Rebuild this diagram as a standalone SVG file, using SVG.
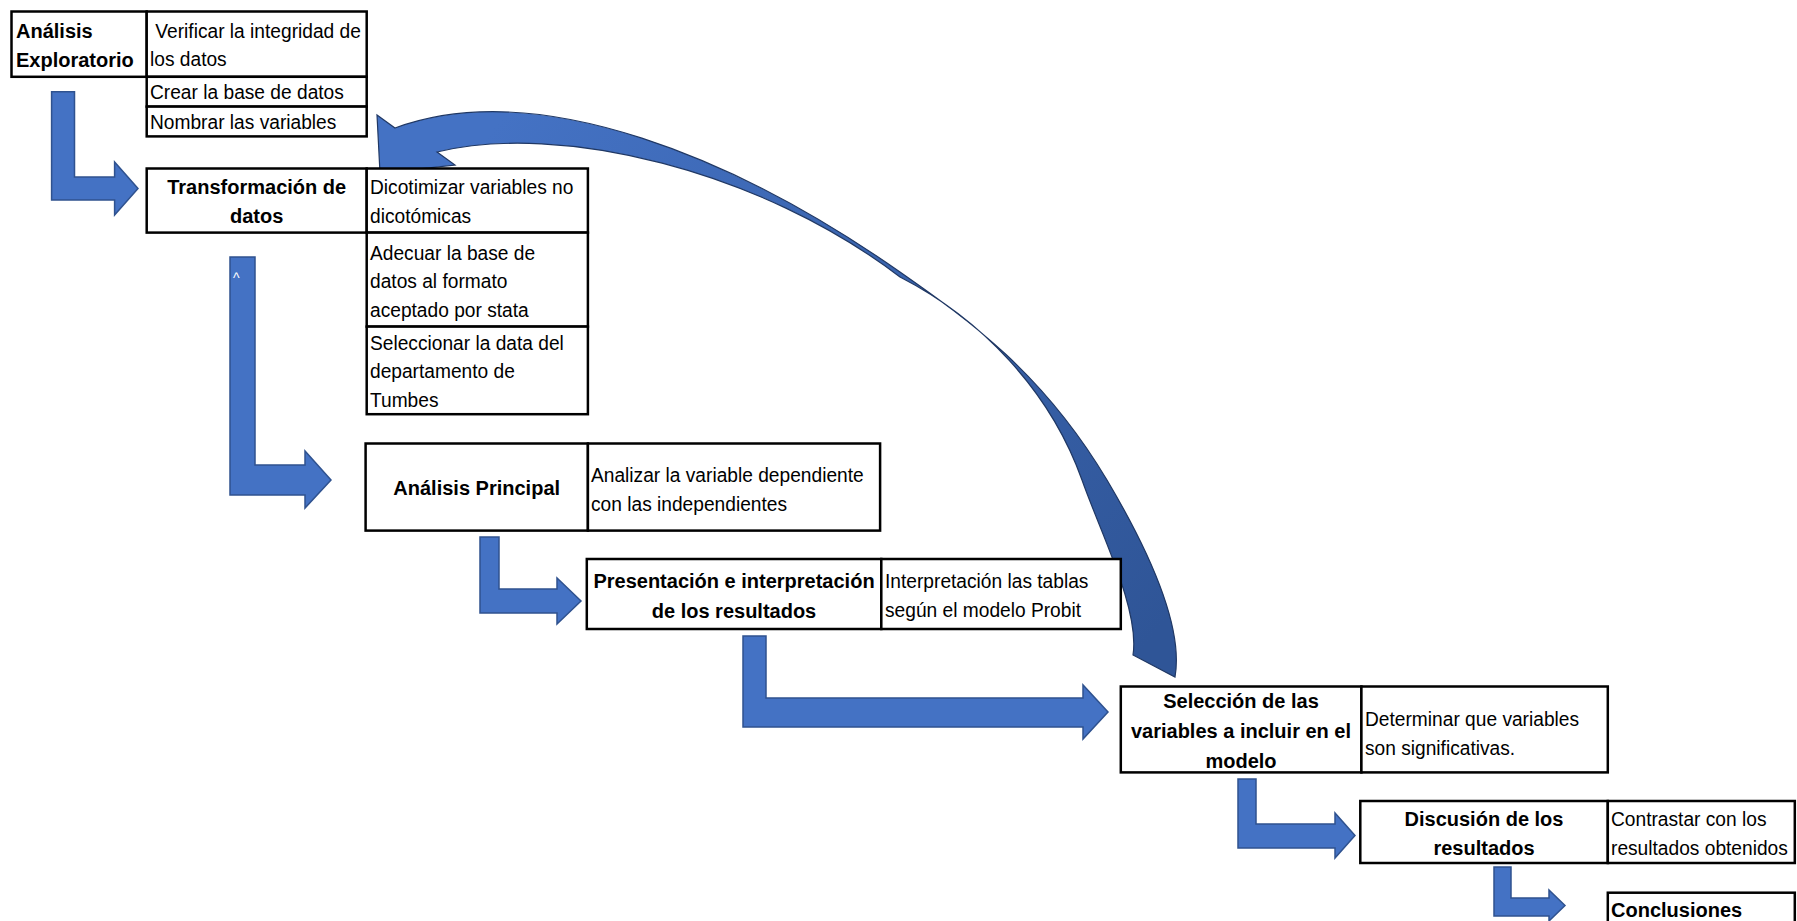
<svg xmlns="http://www.w3.org/2000/svg" width="1797" height="921" viewBox="0 0 1797 921">
<style>
.box{fill:#fff;stroke:#000;stroke-width:2.5}
.t{font-family:"Liberation Sans",Arial,sans-serif;font-size:20.4px;fill:#000}
.b{font-weight:bold;font-size:20px}
.c{text-anchor:middle}
.arr{fill:#4472C4;stroke:#2F528F;stroke-width:1.5;stroke-linejoin:miter}
.curve{fill:url(#cg);stroke:#203864;stroke-width:1.2}
</style>
<defs>
<linearGradient id="cg" gradientUnits="userSpaceOnUse" x1="500" y1="120" x2="1150" y2="640">
<stop offset="0" stop-color="#4472C4"/>
<stop offset="1" stop-color="#2F5597"/>
</linearGradient>
</defs>
<rect width="1797" height="921" fill="#fff"/>
<g id="connectors">
<path class="arr" d="M51.6,91.7 L74.5,91.7 L74.5,177 L114.6,177 L114.6,162 L138,188.5 L114.6,215 L114.6,200 L51.6,200 Z"/>
<path class="arr" d="M230,257 L255,257 L255,465 L305,465 L305,451 L331,480 L305,508 L305,495 L230,495 Z"/>
<path class="arr" d="M480,537 L499,537 L499,589 L557,589 L557,578 L581,601 L557,624 L557,613 L480,613 Z"/>
<path class="arr" d="M743,636 L766,636 L766,698 L1083,698 L1083,685 L1108,712 L1083,739 L1083,727 L743,727 Z"/>
<path class="arr" d="M1238,779 L1256,779 L1256,824 L1335,824 L1335,813 L1355,835.5 L1335,858 L1335,848 L1238,848 Z"/>
<path class="arr" d="M1494,867 L1511,867 L1511,898 L1549,898 L1549,890 L1565,905.5 L1549,921 L1549,916 L1494,916 Z"/>
<path class="curve" d="M1175,677 C1185,620 1139,534 1107,480 C1043,373 970,321 900,272 C740,160 540,75 395,128 L377,115 L380,173 L455,165 L437,152 C560,122 760,170 900,277 C980,318 1050,390 1082,480 C1101,534 1140,610 1133,655 Z"/>
<text x="233" y="283" style="font-family:'Liberation Sans',sans-serif;font-size:14px;fill:#fff">^</text>
</g>
<g id="n1">
<rect class="box" x="11.5" y="11.5" width="135.2" height="65.3"/>
<text class="t b" x="16" y="38">Análisis</text>
<text class="t b" x="16" y="66.5">Exploratorio</text>
</g>
<g id="n1a">
<rect class="box" x="146.7" y="11.5" width="220" height="65.3"/>
<g transform="translate(150 0) scale(0.94 1)">
<text class="t" x="0" y="38" xml:space="preserve"> Verificar la integridad de</text>
<text class="t" x="0" y="66.5">los datos</text>
</g>
</g>
<g id="n1b">
<rect class="box" x="146.7" y="76.8" width="220" height="29.8"/>
<text class="t" transform="translate(150 0) scale(0.94 1)" x="0" y="99.5">Crear la base de datos</text>
</g>
<g id="n1c">
<rect class="box" x="146.7" y="106.6" width="220" height="29.8"/>
<text class="t" transform="translate(150 0) scale(0.94 1)" x="0" y="129.5">Nombrar las variables</text>
</g>
<g id="n2">
<rect class="box" x="146.7" y="168.5" width="220" height="64.1"/>
<text class="t b c" x="256.7" y="194">Transformación de</text>
<text class="t b c" x="256.7" y="223">datos</text>
</g>
<g id="n2a">
<rect class="box" x="366.7" y="168.5" width="221.2" height="64.1"/>
<g transform="translate(370 0) scale(0.94 1)">
<text class="t" x="0" y="194.5">Dicotimizar variables no</text>
<text class="t" x="0" y="223">dicotómicas</text>
</g>
</g>
<g id="n2b">
<rect class="box" x="366.7" y="232.6" width="221.2" height="94"/>
<g transform="translate(370 0) scale(0.94 1)">
<text class="t" x="0" y="260">Adecuar la base de</text>
<text class="t" x="0" y="288.5">datos al formato</text>
<text class="t" x="0" y="317">aceptado por stata</text>
</g>
</g>
<g id="n2c">
<rect class="box" x="366.7" y="326.6" width="221.2" height="87.6"/>
<g transform="translate(370 0) scale(0.94 1)">
<text class="t" x="0" y="350">Seleccionar la data del</text>
<text class="t" x="0" y="378.5">departamento de</text>
<text class="t" x="0" y="407">Tumbes</text>
</g>
</g>
<g id="n3">
<rect class="box" x="365.6" y="443.5" width="222.3" height="87.1"/>
<text class="t b c" x="476.7" y="495">Análisis Principal</text>
</g>
<g id="n3a">
<rect class="box" x="587.9" y="443.5" width="292.2" height="87.1"/>
<g transform="translate(591 0) scale(0.94 1)">
<text class="t" x="0" y="482.5">Analizar la variable dependiente</text>
<text class="t" x="0" y="511">con las independientes</text>
</g>
</g>
<g id="n4">
<rect class="box" x="586.8" y="559" width="294.5" height="70"/>
<text class="t b c" x="734" y="588">Presentación e interpretación</text>
<text class="t b c" x="734" y="617.5">de los resultados</text>
</g>
<g id="n4a">
<rect class="box" x="881.3" y="559" width="239.5" height="70"/>
<g transform="translate(885 0) scale(0.94 1)">
<text class="t" x="0" y="588">Interpretación las tablas</text>
<text class="t" x="0" y="617.5">según el modelo Probit</text>
</g>
</g>
<g id="n5">
<rect class="box" x="1120.8" y="686.5" width="240.6" height="85.9"/>
<text class="t b c" x="1241" y="708">Selección de las</text>
<text class="t b c" x="1241" y="738">variables a incluir en el</text>
<text class="t b c" x="1241" y="767.5">modelo</text>
</g>
<g id="n5a">
<rect class="box" x="1361.4" y="686.5" width="246.4" height="85.9"/>
<g transform="translate(1365 0) scale(0.94 1)">
<text class="t" x="0" y="726.5">Determinar que variables</text>
<text class="t" x="0" y="755">son significativas.</text>
</g>
</g>
<g id="n6">
<rect class="box" x="1360.3" y="801" width="247.5" height="62"/>
<text class="t b c" x="1484" y="826">Discusión de los</text>
<text class="t b c" x="1484" y="855">resultados</text>
</g>
<g id="n6a">
<rect class="box" x="1607.8" y="801" width="187" height="62"/>
<g transform="translate(1611 0) scale(0.94 1)">
<text class="t" x="0" y="826">Contrastar con los</text>
<text class="t" x="0" y="855">resultados obtenidos</text>
</g>
</g>
<g id="n7">
<rect class="box" x="1607.8" y="892.7" width="187" height="40"/>
<text class="t b" x="1611" y="917">Conclusiones</text>
</g>
</svg>
